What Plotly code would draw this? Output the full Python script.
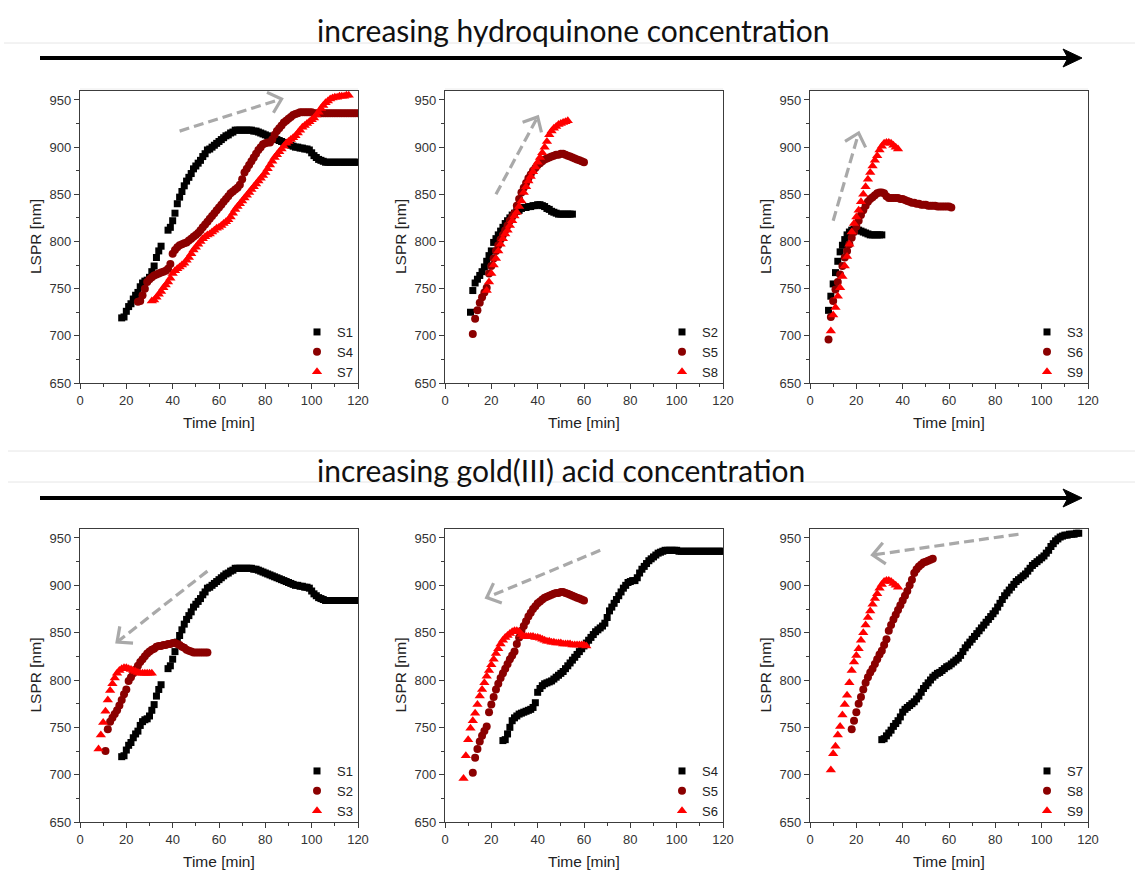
import math
import plotly.graph_objects as go

W, H = 1135, 870

# ---- measured LSPR peak position [nm] versus reaction time [min] ----
s1_time = [18, 19, 20, 21, 22, 23, 24, 25, 26, 27, 28, 29, 30, 31, 32, 33, 34, 35,
           38, 39,
           40, 41, 42, 43, 44, 45, 46, 47, 48, 49, 50, 51, 52, 53, 54, 55, 56, 57, 58, 59,
           60, 61, 62, 63, 64, 65, 66, 67, 68, 69, 70, 71, 72, 73, 74, 75, 76, 77, 78, 79,
           80, 81, 82, 83, 84, 85, 86, 87, 88, 89, 90, 91, 92, 93, 94, 95, 96, 97, 98, 99,
           100, 101, 102, 103, 104, 105, 106, 107, 108, 109, 110, 111, 112, 113, 114, 115,
           116, 117, 118, 119, 120]
s1_lspr = [719, 720, 726, 731, 734, 739, 743, 746, 752, 756, 758, 759, 762, 768, 774, 783, 790, 795,
           812, 815,
           822, 830, 840, 847, 853, 859, 864, 868, 872, 877, 880, 883, 886, 890, 893, 897, 898, 900, 902, 904,
           906, 908, 910, 912, 913, 915, 916, 918, 918, 918, 918, 918, 918, 918, 918, 917, 917, 916, 915, 914,
           913, 912, 911, 910, 909, 908, 907, 906, 905, 904, 903, 902, 901, 900, 900, 899, 899, 898, 898, 897,
           894, 891, 889, 887, 886, 885, 884, 884, 884, 884, 884, 884, 884, 884, 884, 884,
           884, 884, 884, 884, 884]

s2_time = [11, 12, 13, 14, 15, 16, 17, 18, 19, 20, 21, 22, 23, 24, 25, 26, 27, 28, 29, 30,
           31, 32, 33, 34, 35, 36, 37, 38, 39, 40, 41, 42, 43, 44, 45, 46, 47, 48, 49, 50,
           51, 52, 53, 54, 55]
s2_lspr = [725, 748, 756, 760, 764, 768, 773, 779, 785, 790, 799, 803, 807, 811, 815, 819, 822, 825, 828, 830,
           832, 833, 835, 836, 836, 837, 837, 838, 838, 839, 839, 838, 837, 835, 834, 832, 831, 830, 829, 829,
           829, 829, 829, 829, 829]

s3_time = [8, 9, 10, 11, 12, 13, 14, 15, 16, 17, 18, 19, 20, 21, 22, 23, 24, 25, 26, 27,
           28, 29, 30, 31]
s3_lspr = [727, 742, 755, 767, 779, 789, 796, 802, 807, 810, 812, 813, 813, 812, 811, 810, 809, 808, 807, 807,
           807, 807, 807, 807]

s4_time = [25, 26, 27, 28, 29, 30, 31, 32, 33, 34, 35, 36, 37, 38, 39,
           40, 41, 42, 43, 44, 45, 46, 47, 48, 49, 50, 51, 52, 53, 54, 55, 56, 57, 58, 59,
           60, 61, 62, 63, 64, 65, 66, 67, 68, 69, 70, 71, 72, 73, 74, 75, 76, 77, 78, 79,
           80, 81, 82, 83, 84, 85, 86, 87, 88, 89, 90, 91, 92, 93, 94, 95, 96, 97, 98, 99,
           100, 101, 102, 103, 104, 105, 106, 107, 108, 109, 110, 111, 112, 113, 114, 115,
           116, 117, 118, 119, 120]
s4_lspr = [736, 737, 743, 750, 757, 760, 762, 764, 765, 766, 767, 768, 769, 771, 776,
           787, 791, 794, 796, 797, 798, 799, 801, 803, 805, 807, 809, 812, 815, 818, 821, 824, 827, 830, 833,
           836, 839, 842, 845, 848, 851, 853, 855, 857, 860, 866, 873, 877, 881, 885, 889, 893, 897, 900, 903,
           904, 905, 905, 908, 913, 917, 920, 923, 926, 928, 930, 932, 934, 935, 936, 937, 937, 937, 937, 937,
           937, 936, 936, 936, 936, 936, 936, 936, 936, 936, 936, 936, 936, 936, 936, 936,
           936, 936, 936, 936, 936]

s5_time = [12, 13, 14, 15, 16, 17, 18, 19, 20, 21, 22, 23, 24, 25, 26, 27, 28, 29, 30,
           31, 32, 33, 34, 35, 36, 37, 38, 39, 40, 41, 42, 43, 44, 45, 46, 47, 48, 49, 50,
           51, 52, 53, 54, 55, 56, 57, 58, 59, 60]
s5_lspr = [702, 718, 727, 735, 741, 746, 751, 766, 774, 782, 790, 796, 802, 807, 812, 817, 822, 826, 830,
           838, 845, 852, 857, 862, 867, 871, 875, 878, 881, 883, 885, 887, 888, 889, 890, 891, 892, 892, 893,
           893, 892, 891, 890, 889, 888, 887, 886, 885, 884]

s6_time = [8, 9, 10, 11, 12, 13, 14, 15, 16, 17, 18, 19, 20, 21, 22, 23, 24, 25, 26, 27,
           28, 29, 30, 31, 32, 33, 34, 35, 36, 37, 38, 39, 40, 41, 42, 43, 44, 45, 46, 47,
           48, 49, 50, 51, 52, 53, 54, 55, 56, 57, 58, 59, 60, 61]
s6_lspr = [696, 720, 737, 749, 757, 765, 774, 783, 790, 797, 804, 810, 816, 822, 828, 833, 838, 842, 845, 847,
           849, 851, 852, 852, 851, 848, 846, 846, 846, 846, 846, 845, 845, 844, 843, 842, 841, 841, 840, 840,
           839, 839, 839, 838, 838, 838, 838, 837, 837, 837, 837, 837, 837, 836]

s7_time = [31, 32, 33, 34, 35, 36, 37, 38, 39,
           40, 41, 42, 43, 44, 45, 46, 47, 48, 49, 50, 51, 52, 53, 54, 55, 56, 57, 58, 59,
           60, 61, 62, 63, 64, 65, 66, 67, 68, 69, 70, 71, 72, 73, 74, 75, 76, 77, 78, 79,
           80, 81, 82, 83, 84, 85, 86, 87, 88, 89, 90, 91, 92, 93, 94, 95, 96, 97, 98, 99,
           100, 101, 102, 103, 104, 105, 106, 107, 108, 109, 110, 111, 112, 113, 114, 115, 116]
s7_lspr = [737, 738, 741, 744, 747, 751, 754, 757, 761,
           766, 769, 771, 773, 775, 777, 780, 783, 787, 791, 794, 797, 800, 803, 805, 807, 808, 810, 812, 814,
           815, 817, 819, 821, 823, 826, 830, 834, 837, 840, 843, 846, 849, 852, 855, 858, 861, 864, 867, 870,
           873, 877, 881, 885, 889, 892, 895, 898, 901, 904, 906, 908, 910, 912, 915, 918, 921, 923, 925, 927,
           929, 931, 934, 937, 941, 944, 947, 949, 951, 952, 953, 953, 954, 954, 954, 955, 955]

s8_time = [18, 19, 20, 21, 22, 23, 24, 25, 26, 27, 28, 29, 30, 31, 32, 33, 34, 35, 36, 37,
           38, 39, 40, 41, 42, 43, 44, 45, 46, 47, 48, 49, 50, 51, 52, 53]
s8_lspr = [748, 757, 766, 775, 782, 790, 797, 803, 808, 812, 817, 822, 827, 831, 837, 843, 852, 858, 864, 869,
           874, 879, 884, 889, 894, 900, 906, 913, 917, 920, 922, 924, 925, 926, 927, 928]

s9_time = [9, 10, 11, 12, 13, 14, 15, 16, 17, 18, 19, 20, 21, 22, 23, 24, 25, 26, 27, 28,
           29, 30, 31, 32, 33, 34, 35, 36, 37, 38]
s9_lspr = [705, 722, 730, 742, 751, 763, 774, 784, 797, 810, 819, 826, 833, 842, 850, 858, 866, 873, 880, 886,
           891, 897, 901, 904, 905, 905, 904, 902, 900, 898]

samples = {
    "S1": (s1_time, s1_lspr), "S2": (s2_time, s2_lspr), "S3": (s3_time, s3_lspr),
    "S4": (s4_time, s4_lspr), "S5": (s5_time, s5_lspr), "S6": (s6_time, s6_lspr),
    "S7": (s7_time, s7_lspr), "S8": (s8_time, s8_lspr), "S9": (s9_time, s9_lspr),
}

# which samples each panel compares (row 1: hydroquinone series, row 2: gold(III) acid series)
panel_samples = [
    ["S1", "S4", "S7"], ["S2", "S5", "S8"], ["S3", "S6", "S9"],
    ["S1", "S2", "S3"], ["S4", "S5", "S6"], ["S7", "S8", "S9"],
]

row_titles = ["increasing hydroquinone concentration", "increasing gold(III) acid concentration"]

# gray trend arrows per panel, (tail, tip) in data units
trend_arrows = [
    ((43, 917), (87, 951)),
    ((22, 850), (40, 932)),
    ((10, 822), (21, 915)),
    ((55, 915), (16, 840)),
    ((67, 937), (18, 887)),
    ((90, 954), (27, 932)),
]

# ---- styling / geometry ----
STYLES = [
    dict(symbol="square", size=7, color="#000000"),
    dict(symbol="circle", size=8, color="#8B0000"),
    dict(symbol="triangle-up", size=9, color="#FF0000"),
]
COLS_PX = [(80, 358), (445, 723), (810, 1088)]
ROWS_PX = [(91, 383), (529, 822)]
X_RANGE = [0, 120]
Y_RANGE = [650, 959.5]
AXIS_COLOR = "#3c3c3c"
SANS = "Liberation Sans, Arial, sans-serif"
TICK_FONT = dict(family=SANS, size=13, color="#333333")
LABEL_FONT = dict(family=SANS, size=15.5, color="#222222")
ARROW_GRAY = "#a9a9a9"


def px(x):
    return x / W


def py(y):
    return 1 - y / H


fig = go.Figure()
shapes = []
annotations = []
layout = dict(
    width=W, height=H,
    margin=dict(l=0, r=0, t=0, b=0),
    paper_bgcolor="white", plot_bgcolor="white",
)

for i, names in enumerate(panel_samples):
    r, c = divmod(i, 3)
    (left, right), (top, bottom) = COLS_PX[c], ROWS_PX[r]
    sfx = "" if i == 0 else str(i + 1)
    xa, ya = "x" + sfx, "y" + sfx
    leg = "legend" + sfx

    for k, name in enumerate(names):
        t, v = samples[name]
        st = STYLES[k]
        fig.add_trace(go.Scatter(
            x=t, y=v, mode="markers", name=name,
            xaxis=xa, yaxis=ya, legend=leg,
            marker=dict(symbol=st["symbol"], size=st["size"], color=st["color"],
                        line=dict(width=0)),
        ))

    common = dict(
        showline=True, linecolor=AXIS_COLOR, linewidth=1.3, mirror=True,
        showgrid=False, zeroline=False, ticks="outside", ticklen=5, tickwidth=1.2,
        tickcolor=AXIS_COLOR, tickfont=TICK_FONT, automargin=False,
    )
    layout["xaxis" + sfx] = dict(
        common, domain=[px(left), px(right)], anchor=ya, range=X_RANGE,
        tick0=0, dtick=20,
        minor=dict(ticks="outside", dtick=10, ticklen=3, tickwidth=1, tickcolor=AXIS_COLOR),
    )
    layout["yaxis" + sfx] = dict(
        common, domain=[py(bottom), py(top)], anchor=xa, range=Y_RANGE,
        tick0=650, dtick=50,
        minor=dict(ticks="outside", dtick=25, ticklen=3, tickwidth=1, tickcolor=AXIS_COLOR),
    )
    layout[leg] = dict(
        x=px(right - 61), y=py(bottom - 66), xanchor="left", yanchor="top",
        bgcolor="rgba(0,0,0,0)", borderwidth=0, tracegroupgap=0,
        font=dict(family=SANS, size=13, color="#222222"),
    )

    # axis titles
    annotations.append(dict(
        text="Time [min]", x=px((left + right) / 2), y=py(bottom + 39),
        xref="paper", yref="paper", showarrow=False, font=LABEL_FONT,
        xanchor="center", yanchor="middle",
    ))
    annotations.append(dict(
        text="LSPR [nm]", x=px(left - 45), y=py((top + bottom) / 2),
        xref="paper", yref="paper", showarrow=False, font=LABEL_FONT, textangle=-90,
        xanchor="center", yanchor="middle",
    ))

    # dashed gray trend arrow with an open chevron head
    (tx, ty), (hx, hy) = trend_arrows[i]
    sx = (right - left) / (X_RANGE[1] - X_RANGE[0])
    sy = (bottom - top) / (Y_RANGE[1] - Y_RANGE[0])
    dxp, dyp = (hx - tx) * sx, (hy - ty) * sy
    ang = math.atan2(dyp, dxp)
    back = 2.5
    shapes.append(dict(
        type="line", xref=xa, yref=ya, x0=tx, y0=ty,
        x1=hx - back * math.cos(ang) / sx, y1=hy - back * math.sin(ang) / sy,
        line=dict(color=ARROW_GRAY, width=3.2, dash="10px,5px"),
    ))
    arm, spread = 16, math.radians(42)
    pts = []
    for sgn in (1, -1):
        a = ang + math.pi + sgn * spread
        pts.append((hx + arm * math.cos(a) / sx, hy + arm * math.sin(a) / sy))
    path = "M{},{} L{},{} L{},{}".format(pts[0][0], pts[0][1], hx, hy, pts[1][0], pts[1][1])
    shapes.append(dict(type="path", xref=xa, yref=ya, path=path,
                       line=dict(color=ARROW_GRAY, width=3.2)))

# faint separator rules
for y0, x0 in ((43, 4), (451, 8), (482, 8)):
    shapes.append(dict(type="line", xref="paper", yref="paper", x0=px(x0), x1=1,
                       y0=py(y0), y1=py(y0), line=dict(color="#e6e6e6", width=1)))
for left, right in COLS_PX:
    shapes.append(dict(type="line", xref="paper", yref="paper", x0=px(left), x1=px(right),
                       y0=py(89), y1=py(89), line=dict(color="#ececec", width=1)))

# row headings with long black arrows
for title, ty_, ay, cx in zip(row_titles, (30, 470), (58, 498), (573, 561)):
    annotations.append(dict(
        text=title, x=px(cx), y=py(ty_), xref="paper", yref="paper", showarrow=False,
        font=dict(family="Lato, Open Sans, sans-serif", size=30, color="#111111"),
        xanchor="center", yanchor="middle",
    ))
    shapes.append(dict(type="line", xref="paper", yref="paper",
                       x0=px(40), x1=px(1068), y0=py(ay), y1=py(ay),
                       line=dict(color="black", width=4)))
    head = "M{},{} L{},{} L{},{} L{},{} Z".format(
        px(1082), py(ay), px(1063), py(ay - 9), px(1068), py(ay), px(1063), py(ay + 9))
    shapes.append(dict(type="path", xref="paper", yref="paper", path=head,
                       fillcolor="black", line=dict(color="black", width=1)))

layout["shapes"] = shapes
layout["annotations"] = annotations
fig.update_layout(**layout)
fig.write_html("out.html")
